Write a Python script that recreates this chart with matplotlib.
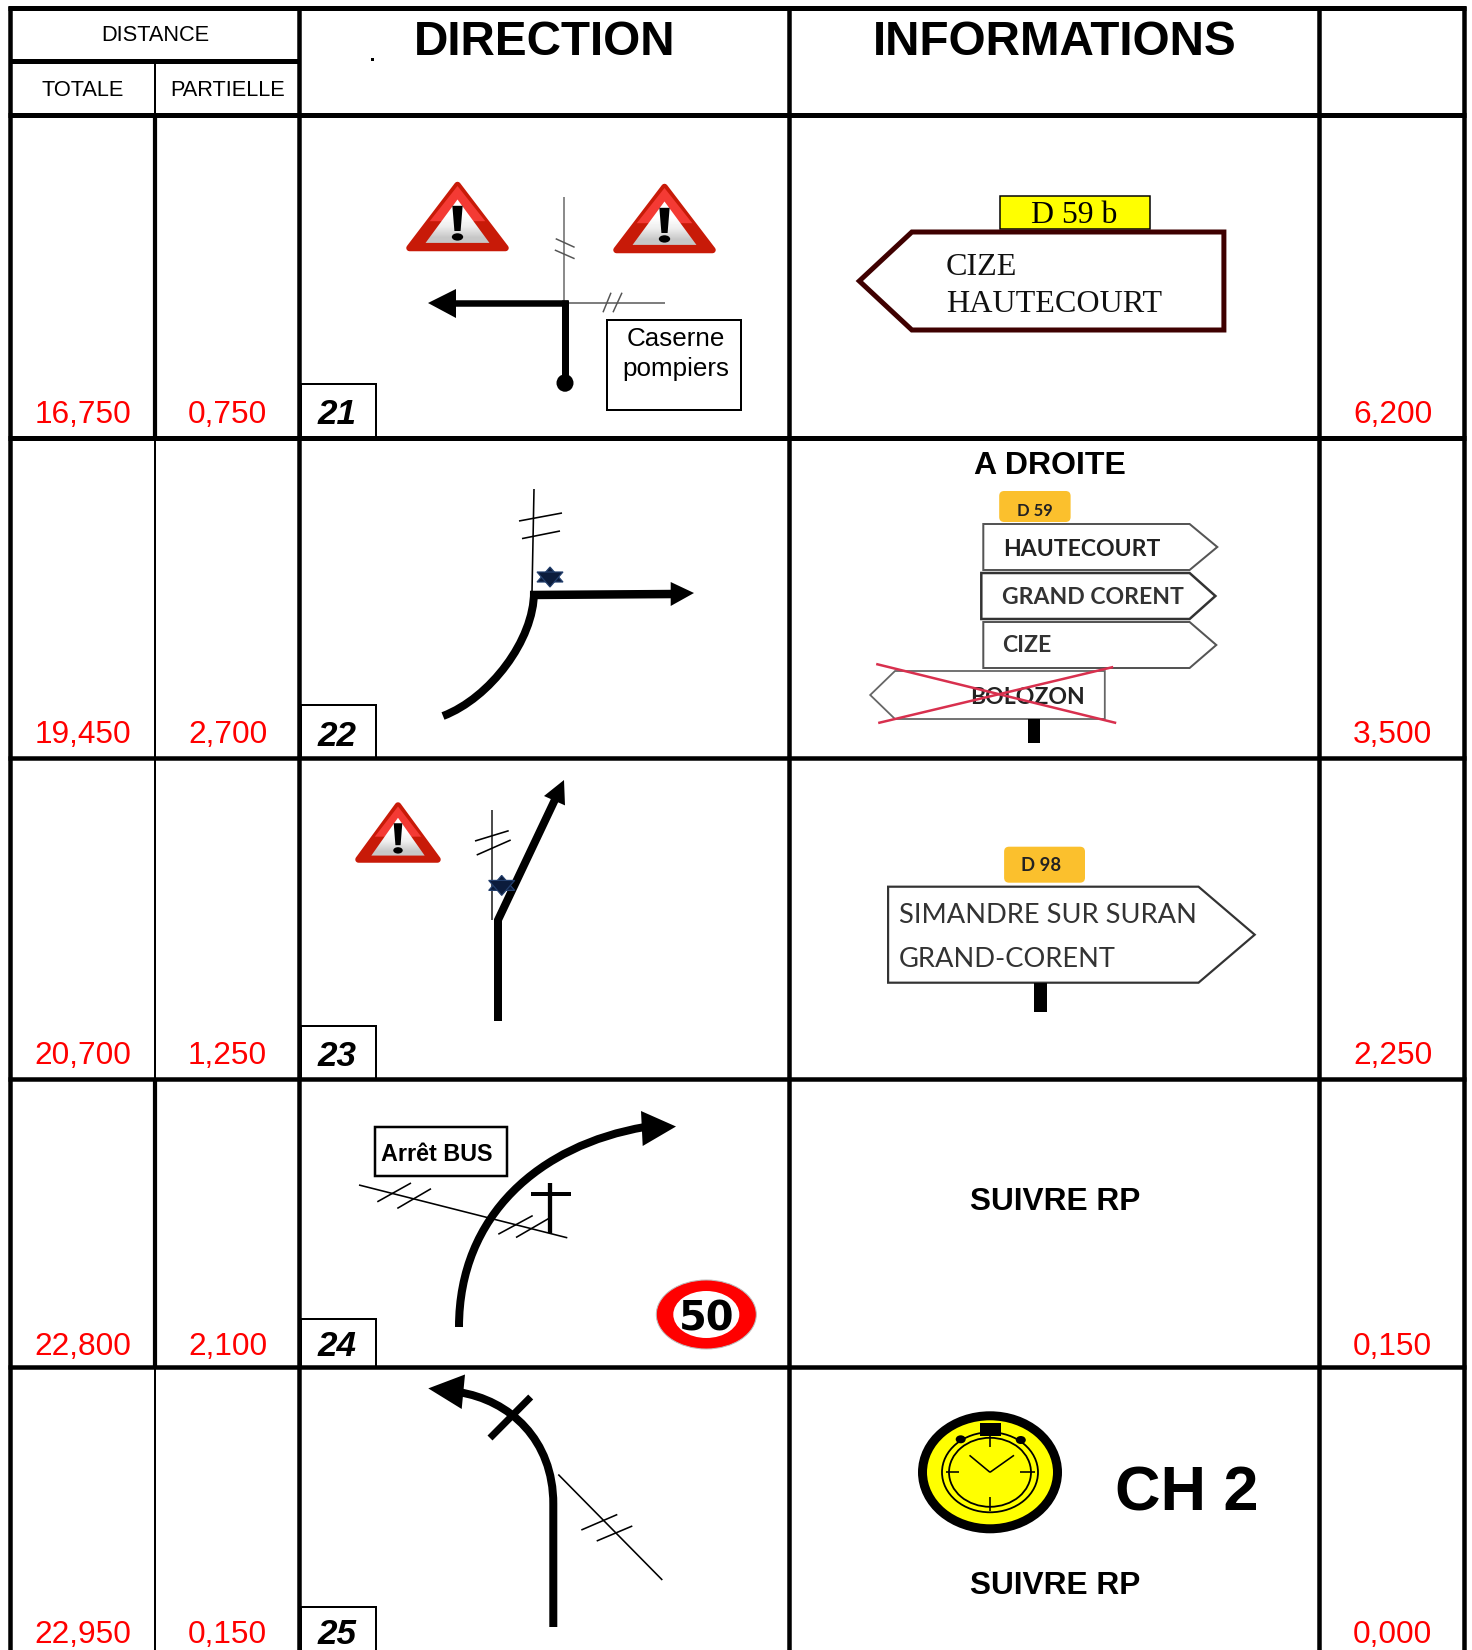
# roadbook page: grid, red distances, hand drawn junction sketches and signs
import matplotlib
matplotlib.use("Agg")
import matplotlib.pyplot as plt
from matplotlib.patches import Polygon, Rectangle, Ellipse, PathPatch, FancyBboxPatch
from matplotlib.path import Path

# ----- data -----
step_numbers = ["21", "22", "23", "24", "25"]
dist_total = ["16,750", "19,450", "20,700", "22,800", "22,950"]
dist_partial = ["0,750", "2,700", "1,250", "2,100", "0,150"]
dist_next = ["6,200", "3,500", "2,250", "0,150", "0,000"]
header_titles = ["DIRECTION", "INFORMATIONS"]
header_sub = ["TOTALE", "PARTIELLE"]

# ----- layout, all in reference pixels -----
col_x = [10, 155, 298.5, 789, 1318.5, 1464]
row_y = [115, 438, 758, 1079, 1367]
baselines = [423, 743, 1064, 1355, 1643]
num_baselines = [424, 746, 1066, 1356, 1644]
num_box_top = [384, 705, 1026, 1319, 1607]
col1_width = [4.2, 2, 2, 4.2, 2]

PX = 0.72  # one pixel in points at dpi 100
plt.rcParams["font.family"] = ["Liberation Sans", "DejaVu Sans"]

fig = plt.figure(figsize=(14.72, 16.5), dpi=100)
ax = fig.add_axes([0, 0, 1, 1])
ax.set_xlim(0, 1472)
ax.set_ylim(1650, 0)
ax.axis("off")


def line(x0, y0, x1, y1, w=1.5, c="black", cap="butt", z=3):
    ax.plot([x0, x1], [y0, y1], color=c, lw=w * PX, solid_capstyle=cap, zorder=z)


def text(x, y, s, px, ha="center", va="baseline", c="black", **kw):
    ax.text(x, y, s, fontsize=px * PX, ha=ha, va=va, color=c, zorder=6, **kw)


def head(*pts):
    ax.add_patch(Polygon(pts, closed=True, fc="black", ec="none", zorder=4))


def curve(p0, p1, p2, p3, w=8, start=None):
    verts = [p0, p1, p2, p3]
    codes = [Path.MOVETO, Path.CURVE4, Path.CURVE4, Path.CURVE4]
    if start is not None:
        verts = [start] + verts
        codes = [Path.MOVETO, Path.LINETO] + codes[1:]
    ax.add_patch(PathPatch(Path(verts, codes), fc="none", ec="black", lw=w * PX, capstyle="butt", zorder=3))


def warning(x0, x1, y0, y1):
    w, h = x1 - x0, y1 - y0
    xm = (x0 + x1) / 2
    ax.add_patch(Polygon([(xm, y0 + 3), (x1 - 3.5, y1 - 4), (x0 + 3.5, y1 - 4)], fc="#c81a08", ec="#c81a08",
                         lw=6.5 * PX, joinstyle="round", zorder=3))
    ax.add_patch(Polygon([(xm, y0 + 4), (xm + 0.27 * w, y0 + 0.56 * h), (xm - 0.27 * w, y0 + 0.56 * h)],
                         fc="#f43a34", ec="none", zorder=3))
    tri = Polygon([(xm, y0 + 0.25 * h), (x0 + 0.81 * w, y0 + 0.87 * h), (x0 + 0.19 * w, y0 + 0.87 * h)],
                  fc="none", ec="none", zorder=4)
    ax.add_patch(tri)
    im = ax.imshow([[1.0], [1.0], [0.93], [0.78]], extent=(x0, x1, y0 + 0.87 * h, y0 + 0.25 * h), cmap="gray",
                   vmin=0, vmax=1, aspect="auto", interpolation="bilinear", zorder=4)
    im.set_clip_path(tri)
    ax.add_patch(Polygon([(xm - 0.05 * w, y0 + 0.34 * h), (xm + 0.05 * w, y0 + 0.34 * h),
                          (xm + 0.03 * w, y0 + 0.70 * h), (xm - 0.03 * w, y0 + 0.70 * h)],
                         fc="black", ec="none", zorder=5))
    ax.add_patch(Ellipse((xm, y0 + 0.785 * h), 0.11 * w, 0.105 * h, fc="black", ec="none", zorder=5))


def star(cx, cy, w=26, h=20):
    a = [(cx, cy - h / 2), (cx + w / 2, cy + h / 4), (cx - w / 2, cy + h / 4)]
    b = [(cx, cy + h / 2), (cx + w / 2, cy - h / 4), (cx - w / 2, cy - h / 4)]
    for tri in (a, b):
        ax.add_patch(Polygon(tri, fc="#0c1c3c", ec="#24406e", lw=1.2 * PX, zorder=5))


def pointed_sign(left, right, tip, top, bottom, c="#333333", w=2, point="right"):
    mid = (top + bottom) / 2
    if point == "right":
        pts = [(left, top), (right, top), (tip, mid), (right, bottom), (left, bottom)]
    else:
        pts = [(tip, mid), (left, top), (right, top), (right, bottom), (left, bottom)]
    ax.add_patch(Polygon(pts, fc="white", ec=c, lw=w * PX, joinstyle="miter", zorder=3))


def route_tag(x0, x1, y0, y1, label, px, tx, ty):
    ax.add_patch(FancyBboxPatch((x0 + 4, y0 + 4), x1 - x0 - 8, y1 - y0 - 8, boxstyle="round,pad=4,rounding_size=5",
                                fc="#fbc02d", ec="none", zorder=4))
    text(tx, ty, label, px, va="center_baseline", family="Lato", weight="bold", c="#222222")


# ----- grid -----
line(col_x[0] - 2, 8, col_x[-1] + 2, 8, 5)
for x in [col_x[0], col_x[2], col_x[3], col_x[4], col_x[5]]:
    line(x, 6, x, 1650, 4.5)
line(col_x[0], 61, col_x[2], 61, 5)
line(col_x[1], 61, col_x[1], row_y[0], 2)
for y, w in zip(row_y, [5, 5, 4.5, 4.5, 4.5]):
    line(col_x[0] - 2, y, col_x[-1] + 2, y, w)
for i in range(5):
    bottom = row_y[i + 1] if i < 4 else 1650
    line(col_x[1], row_y[i], col_x[1], bottom, col1_width[i])

# ----- header -----
text(155, 33, "DISTANCE", 21.8, va="center_baseline")
text(82.6, 88.5, header_sub[0], 21.8, va="center_baseline")
text(228, 88.5, header_sub[1], 21.8, va="center_baseline")
text(545, 55, header_titles[0], 47.6, weight="bold")
text(1055, 55, header_titles[1], 47.6, weight="bold")
ax.add_patch(Rectangle((371, 58), 2.5, 2.5, fc="black", ec="none"))

# ----- distances and step numbers -----
for i in range(5):
    text(83, baselines[i], dist_total[i], 31.7, c="#ff0000")
    text(227.6, baselines[i], dist_partial[i], 31.7, c="#ff0000")
    text(1392.6, baselines[i], dist_next[i], 31.7, c="#ff0000")
    ax.add_patch(Rectangle((301, num_box_top[i]), 75, (row_y[i + 1] if i < 4 else 1660) - num_box_top[i],
                           fc="white", ec="black", lw=2 * PX, zorder=2))
    text(337, num_baselines[i], step_numbers[i], 35, weight="bold", style="italic")

# ----- step 21 -----
warning(406, 509, 182, 252)
warning(613, 716, 184, 254)
line(563.7, 197, 563.7, 303, 1.5, "#666666")
line(555.7, 238.7, 574.6, 247.3, 1.5, "#555555")
line(554.8, 250, 574.6, 258.7, 1.5, "#555555")
line(564, 303, 665, 303, 1.5, "#555555")
line(611, 292.7, 603, 312.3, 1.5, "#555555")
line(622, 292.7, 613, 312.3, 1.5, "#555555")
line(568, 303, 450, 303, 6.5)
head((428, 303), (456, 289), (456, 318))
line(565, 300, 565, 383, 7)
ax.add_patch(Ellipse((565, 383), 17, 17.5, fc="black", ec="none", zorder=4))
ax.add_patch(Rectangle((607, 320), 134, 90, fc="white", ec="black", lw=2 * PX, zorder=2))
text(676, 337, "Caserne", 26, va="center_baseline")
text(676, 366.5, "pompiers", 26, va="center_baseline")

ax.add_patch(Rectangle((1000.2, 196), 149.7, 33, fc="#ffff00", ec="black", lw=1.5 * PX, zorder=3))
text(1074.5, 212, "D 59 b", 31.8, va="center_baseline", family="Liberation Serif")
pointed_sign(911.9, 1223.9, 859.3, 232, 330, c="#3f0000", w=5, point="left")
text(946.1, 275, "CIZE", 32.2, ha="left", family="Liberation Serif", c="#111111")
text(946.1, 312, "HAUTECOURT", 32.2, ha="left", family="Liberation Serif", c="#111111")

# ----- step 22 -----
line(534, 489, 532, 592, 1.6)
line(519, 521, 562, 513, 1.6)
line(522, 538.6, 560, 531, 1.6)
star(550, 577)
curve((443, 716), (490, 698), (534, 640), (534, 592))
line(530, 595, 675, 594, 8.5)
head((694, 593), (670.7, 582), (670.7, 606))

text(1050, 474, "A DROITE", 32, weight="bold")
route_tag(999.2, 1070.6, 491, 522, "D 59", 16.5, 1034.6, 509)
pointed_sign(983.3, 1189.6, 1217.3, 524, 570, c="#555555", w=2)
pointed_sign(981.3, 1189.6, 1215.4, 573, 619, c="#333333", w=2.5)
pointed_sign(983.3, 1189.6, 1216.3, 622, 668, c="#555555", w=2)
text(1003.1, 547, "HAUTECOURT", 23, ha="left", va="center_baseline", family="Lato", weight="bold", c="#222222")
text(1002.1, 596, "GRAND CORENT", 23, ha="left", va="center_baseline", family="Lato", weight="bold", c="#333333")
text(1002.1, 644, "CIZE", 23, ha="left", va="center_baseline", family="Lato", weight="bold", c="#333333")
pointed_sign(895, 1104.8, 870.2, 671, 719, c="#666666", w=1.8, point="left")
text(1027, 696, "BOLOZON", 23, va="center_baseline", family="Lato", weight="bold", c="#222222")
ax.add_patch(Rectangle((1027.9, 719), 12, 24, fc="black", ec="none", zorder=3))
line(876.2, 664, 1116.2, 723, 2.5, "#d8304e", z=7)
line(878.2, 723, 1113.2, 667, 2.5, "#d8304e", z=7)

# ----- step 23 -----
warning(355, 441, 802.5, 863.5)
line(491.7, 809.6, 491.7, 919.5, 1.6, "#222222")
line(475, 841, 508.7, 830.7, 1.6)
line(476.7, 855, 510.7, 840, 1.6)
ax.plot([498, 498, 556.7], [1021, 920, 796], color="black", lw=8 * PX, solid_joinstyle="miter",
        solid_capstyle="butt", zorder=3)
head((564, 780), (544, 796), (565, 805.4))
star(501.7, 885.4)

route_tag(1004.1, 1085, 846.7, 882.7, "D 98", 18.5, 1040.8, 864)
pointed_sign(888.1, 1198.5, 1254.7, 886.7, 982.7, c="#333333", w=2.2)
text(899, 912.7, "SIMANDRE SUR SURAN", 27.2, ha="left", va="center_baseline", family="Lato", c="#333333")
text(899, 956.7, "GRAND-CORENT", 27.2, ha="left", va="center_baseline", family="Lato", c="#333333")
ax.add_patch(Rectangle((1033.9, 982.7), 13.1, 29.3, fc="black", ec="none", zorder=3))

# ----- step 24 -----
ax.add_patch(Rectangle((375, 1127), 131.7, 49, fc="white", ec="black", lw=2.5 * PX, zorder=2))
text(436.5, 1151.6, "Arrêt BUS", 23.4, va="center_baseline", weight="bold")
line(359, 1185, 567.3, 1237.8, 1.6)
line(377.3, 1201.8, 411, 1183, 1.6)
line(397.3, 1208.4, 431, 1188.7, 1.6)
line(498.3, 1234.2, 532.7, 1215.6, 1.6)
line(516, 1237.5, 548.7, 1218.5, 1.6)
line(550.3, 1183, 550.3, 1232.7, 4.3)
line(531, 1194, 571, 1194, 4)
curve((459, 1327), (459, 1215), (540, 1145), (645, 1127))
head((676, 1126.5), (641, 1111), (642.7, 1146))
ax.add_patch(Ellipse((706.3, 1314.5), 100, 69, fc="#ff0000", ec="#bbbbbb", lw=1 * PX, zorder=3))
ax.add_patch(Ellipse((706.3, 1314.5), 66, 47, fc="white", ec="none", zorder=4))
text(707, 1315, "50", 40, va="center_baseline", family="DejaVu Sans", weight="bold")
text(1055, 1198, "SUIVRE RP", 31.6, va="center_baseline", weight="bold")

# ----- step 25 -----
curve((553.3, 1504), (553.3, 1440), (510, 1400), (458, 1392), start=(553.3, 1627))
head((428.3, 1388.4), (465, 1374.5), (461.7, 1409))
line(490, 1438, 530.7, 1397, 7)
line(558.3, 1474.5, 662.3, 1580, 1.6)
line(581.3, 1530, 617.3, 1514.5, 1.6)
line(596.7, 1541, 632.3, 1526, 1.6)

cx, cy = 990, 1472.3
ax.add_patch(Ellipse((cx, cy), 135, 113, fc="#ffff00", ec="black", lw=9 * PX, zorder=3))
ax.add_patch(Ellipse((cx, cy), 96, 80, fc="none", ec="black", lw=1.8 * PX, zorder=4))
ax.add_patch(Ellipse((cx, cy), 82, 69, fc="none", ec="black", lw=1.8 * PX, zorder=4))
ax.add_patch(Rectangle((980, 1422.7), 21, 13, fc="black", ec="none", zorder=5))
ax.add_patch(Ellipse((960.7, 1439.3), 10, 8, fc="black", ec="none", zorder=5))
ax.add_patch(Ellipse((1020.8, 1440), 10, 8, fc="black", ec="none", zorder=5))
line(cx, 1436, cx, 1447, 1.6, z=5)
line(cx, 1497, cx, 1511, 1.6, z=5)
line(945.5, cy, 959, cy, 1.6, z=5)
line(1020, cy, 1035, cy, 1.6, z=5)
line(cx, cy, 969.5, 1455.3, 1.6, z=5)
line(cx, cy, 1014, 1455.3, 1.6, z=5)

text(1187, 1510.7, "CH 2", 63, weight="bold")
text(1055, 1582, "SUIVRE RP", 31.6, va="center_baseline", weight="bold")

fig.savefig("out.png", dpi=100, facecolor="white")
